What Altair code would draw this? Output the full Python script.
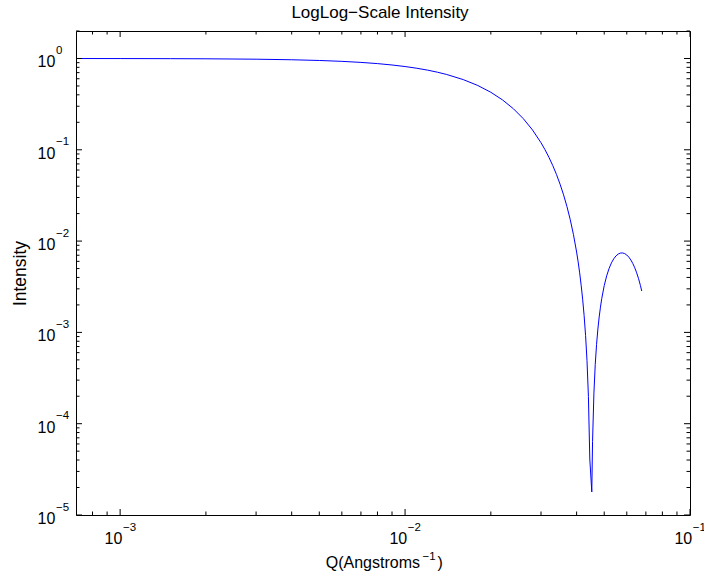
import altair as alt
import pandas as pd

# ---- data ----
Q = [0.0007, 0.001, 0.0015, 0.002, 0.003, 0.004, 0.005, 0.006, 0.007, 0.008,
     0.009, 0.010, 0.011, 0.012, 0.013, 0.014, 0.016, 0.018, 0.020, 0.022,
     0.024, 0.026, 0.028, 0.030, 0.031, 0.032, 0.033, 0.034, 0.035, 0.036,
     0.037, 0.038, 0.039, 0.040, 0.0405, 0.041, 0.0415, 0.042, 0.0425, 0.043,
     0.0435, 0.044, 0.0445, 0.04522, 0.0455, 0.046, 0.0465, 0.047, 0.0475, 0.048,
     0.0485, 0.049, 0.050, 0.051, 0.052, 0.053, 0.054, 0.055, 0.056, 0.057,
     0.058, 0.059, 0.060, 0.061, 0.062, 0.063, 0.064, 0.065, 0.066, 0.067,
     0.0677]
INTENSITY = [0.9990, 0.9980, 0.9955, 0.9920, 0.9821, 0.9684, 0.9511, 0.9302, 0.9060, 0.8788,
             0.8488, 0.8163, 0.7817, 0.7451, 0.7071, 0.6679, 0.5873, 0.5060, 0.4265, 0.3511,
             0.2816, 0.2193, 0.1651, 0.1195, 0.09991, 0.08244, 0.06701, 0.05354, 0.04194, 0.03209,
             0.02386, 0.01713, 0.01175, 0.007583, 0.005921, 0.004485, 0.003283, 0.002312, 0.001530, 0.0009278,
             0.0004927, 0.0001991, 0.00004104, 0.0000179, 0.00006398, 0.0002163, 0.0004452, 0.0007404, 0.001087, 0.001476,
             0.001891, 0.002338, 0.003255, 0.004165, 0.005017, 0.005773, 0.006403, 0.006890, 0.007221, 0.007395,
             0.007416, 0.007292, 0.007038, 0.006672, 0.006212, 0.005681, 0.005099, 0.004488, 0.003868, 0.003257,
             0.00284]

# tick values and tick labels (base "10" with a raised exponent)
X_MAJOR = [1e-3, 1e-2, 1e-1]
X_EXP = ["\u22123", "\u22122", "\u22121"]
X_MINOR = [8e-4, 9e-4,
           2e-3, 3e-3, 4e-3, 5e-3, 6e-3, 7e-3, 8e-3, 9e-3,
           2e-2, 3e-2, 4e-2, 5e-2, 6e-2, 7e-2, 8e-2, 9e-2]
Y_MAJOR = [1e-5, 1e-4, 1e-3, 1e-2, 1e-1, 1e0]
Y_EXP = ["\u22125", "\u22124", "\u22123", "\u22122", "\u22121", "0"]
Y_MINOR = [m * e for e in [1e-5, 1e-4, 1e-3, 1e-2, 1e-1] for m in [2, 3, 4, 5, 6, 7, 8, 9]] + [2.0]
BASE = "10"

TITLE = "LogLog\u2212Scale Intensity"
X_TITLE_MAIN = "Q(Angstroms"
X_TITLE_EXP = "\u22121"
X_TITLE_END = ")"
Y_TITLE = "Intensity"

FONT = "Liberation Sans, Arial, Helvetica, DejaVu Sans, sans-serif"
W, H = 614, 484
MAJ, MIN = 6, 3.5
LBL, EXPS = 16, 11.5

df = pd.DataFrame({"Q": Q, "I": INTENSITY})
xscale = alt.Scale(type="log", domain=[7e-4, 0.1], nice=False)
yscale = alt.Scale(type="log", domain=[1e-5, 2], nice=False)

x_axis = alt.Axis(values=X_MAJOR, title="", labels=False, ticks=False, domain=False, grid=False)
y_axis = alt.Axis(values=Y_MAJOR, title=Y_TITLE, labels=False, ticks=False, domain=False, grid=False,
                  titleFont=FONT, titleFontSize=17.5, titleFontWeight="normal", titleColor="black",
                  titleX=-56, titleY=H / 2, titleAngle=270, titleBaseline="middle", titleAlign="center")

line = alt.Chart(df).mark_line(color="#0000ff", strokeWidth=1, clip=True).encode(
    x=alt.X("Q:Q", scale=xscale, axis=x_axis),
    y=alt.Y("I:Q", scale=yscale, axis=y_axis),
)


def xticks(vals, length):
    d = pd.DataFrame({"Q": vals})
    base = alt.Chart(d).mark_rule(color="black", strokeWidth=1)
    bottom = base.encode(x=alt.X("Q:Q", scale=xscale, axis=x_axis), y=alt.value(H), y2=alt.value(H - length))
    top = base.encode(x=alt.X("Q:Q", scale=xscale, axis=x_axis), y=alt.value(0), y2=alt.value(length))
    return [bottom, top]


def yticks(vals, length):
    d = pd.DataFrame({"I": vals})
    base = alt.Chart(d).mark_rule(color="black", strokeWidth=1)
    left = base.encode(y=alt.Y("I:Q", scale=yscale, axis=y_axis), x=alt.value(0), x2=alt.value(length))
    right = base.encode(y=alt.Y("I:Q", scale=yscale, axis=y_axis), x=alt.value(W), x2=alt.value(W - length))
    return [left, right]


# tick labels
xl = pd.DataFrame({"Q": X_MAJOR, "b": [BASE] * len(X_MAJOR), "e": X_EXP})
x_base = alt.Chart(xl).mark_text(font=FONT, fontSize=LBL, color="black", align="right",
                                 baseline="alphabetic", dx=2.2, clip=False).encode(
    x=alt.X("Q:Q", scale=xscale, axis=x_axis), y=alt.value(H + 29), text="b:N")
x_exp = alt.Chart(xl).mark_text(font=FONT, fontSize=EXPS, color="black", align="left",
                                baseline="alphabetic", dx=2.8, clip=False).encode(
    x=alt.X("Q:Q", scale=xscale, axis=x_axis), y=alt.value(H + 16.3), text="e:N")

yl = pd.DataFrame({"I": Y_MAJOR, "b": [BASE] * len(Y_MAJOR), "e": Y_EXP})
y_base = alt.Chart(yl).mark_text(font=FONT, fontSize=LBL, color="black", align="left",
                                 baseline="alphabetic", dy=8.9, clip=False).encode(
    y=alt.Y("I:Q", scale=yscale, axis=y_axis), x=alt.value(-38.5), text="b:N")
y_exp = alt.Chart(yl).mark_text(font=FONT, fontSize=EXPS, color="black", align="left",
                                baseline="alphabetic", dy=-4.4, clip=False).encode(
    y=alt.Y("I:Q", scale=yscale, axis=y_axis), x=alt.value(-20.0), text="e:N")

# titles
title_layer = alt.Chart(pd.DataFrame({"t": [TITLE]})).mark_text(
    font=FONT, fontSize=17, fontWeight="normal", color="black",
    align="center", baseline="alphabetic", clip=False,
).encode(text="t:N", x=alt.value(W / 2 - 3), y=alt.value(-12.7))

xt = pd.DataFrame({"a": [X_TITLE_MAIN], "b": [X_TITLE_EXP], "c": [X_TITLE_END]})
xt_main = alt.Chart(xt).mark_text(font=FONT, fontSize=16, color="black", align="right",
                                  baseline="alphabetic", clip=False).encode(
    text="a:N", x=alt.value(344), y=alt.value(H + 53))
xt_exp = alt.Chart(xt).mark_text(font=FONT, fontSize=EXPS, color="black", align="left",
                                 baseline="alphabetic", clip=False).encode(
    text="b:N", x=alt.value(346.5), y=alt.value(H + 45))
xt_end = alt.Chart(xt).mark_text(font=FONT, fontSize=16, color="black", align="left",
                                 baseline="alphabetic", clip=False).encode(
    text="c:N", x=alt.value(361.5), y=alt.value(H + 53))

layers = ([line] + xticks(X_MAJOR, MAJ) + xticks(X_MINOR, MIN) + yticks(Y_MAJOR, MAJ) + yticks(Y_MINOR, MIN)
          + [x_base, x_exp, y_base, y_exp, title_layer, xt_main, xt_exp, xt_end])

chart = alt.layer(*layers).properties(
    width=W, height=H,
    autosize=alt.AutoSizeParams(type="none"),
    padding={"left": 76, "top": 31, "right": 14, "bottom": 65},
    background="white",
).configure_view(stroke="black", strokeWidth=1)

chart.save("out.html", embed_options={"renderer": "svg", "actions": False})
